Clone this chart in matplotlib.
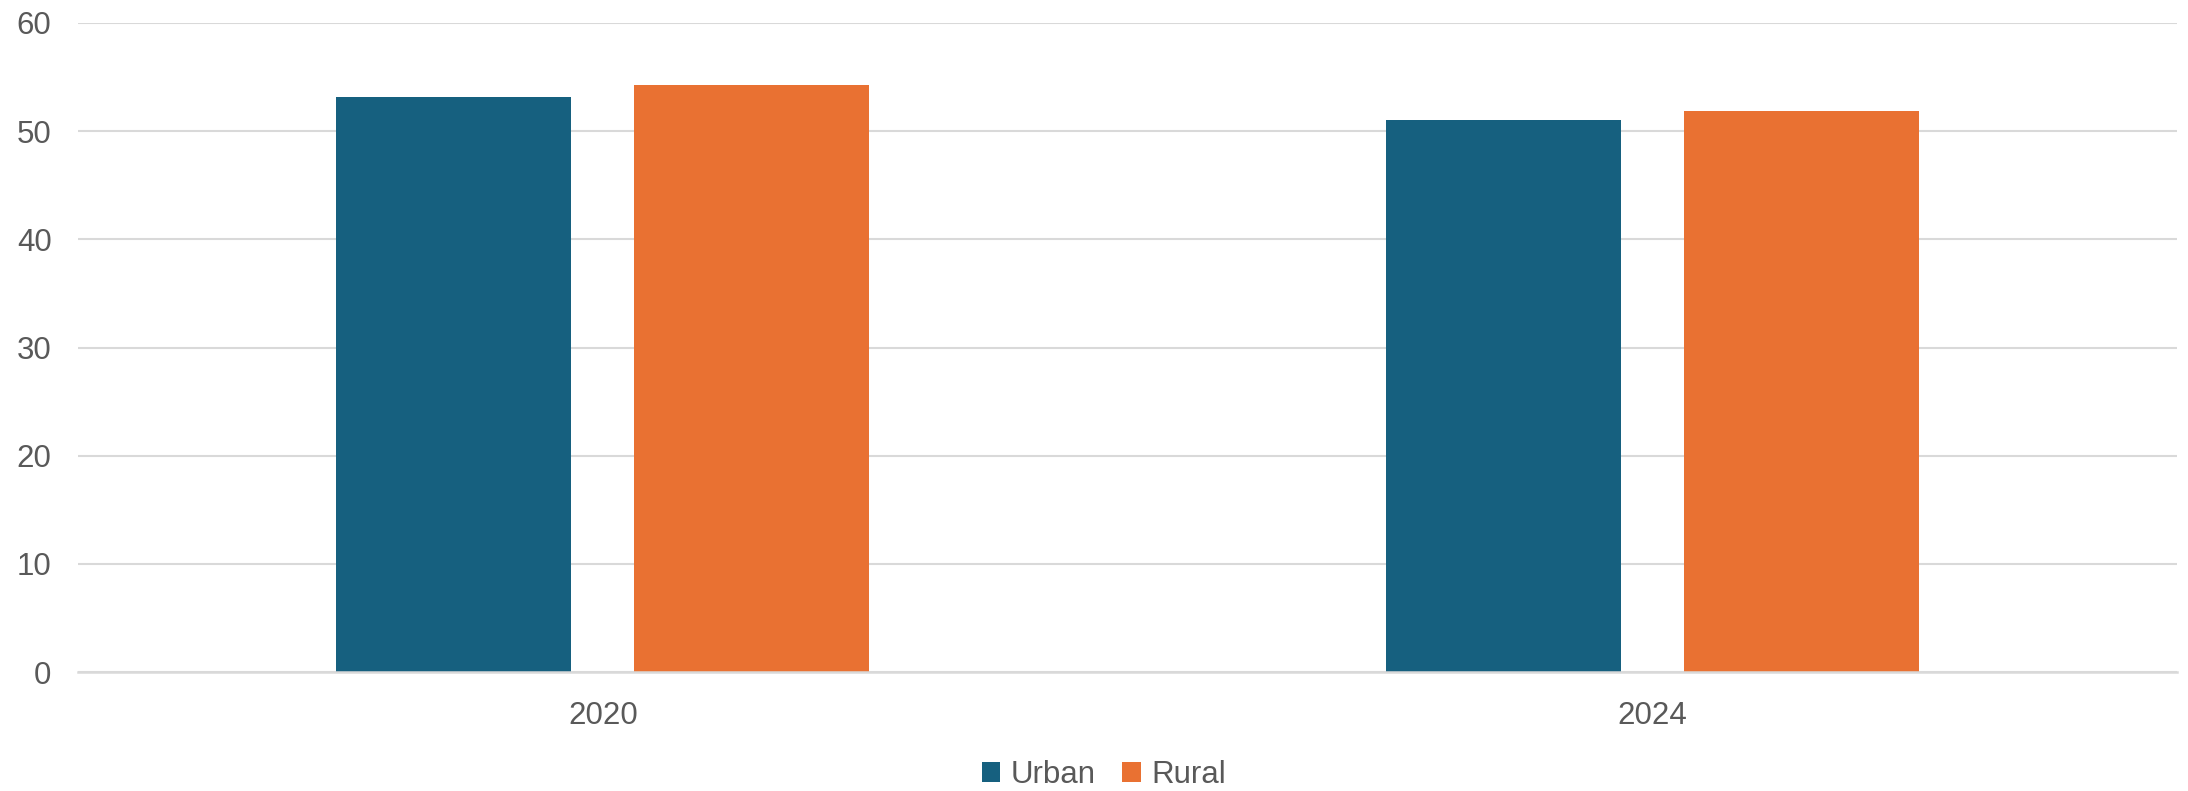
import matplotlib
matplotlib.use("Agg")
import matplotlib.pyplot as plt
import numpy as np

categories = ["2020", "2024"]
series_names = ["Urban", "Rural"]
urban = [53.2, 51.0]
rural = [54.3, 51.9]
yticks = [0, 10, 20, 30, 40, 50, 60]

colors = ["#16607F", "#E97132"]
text_color = "#595959"
grid_color = "#D9D9D9"

plt.rcParams['font.family'] = ['Liberation Sans', 'DejaVu Sans']

W, H = 2188, 791
fig = plt.figure(figsize=(W / 100, H / 100), dpi=100)
ax = fig.add_axes([78 / W, 1 - 672 / H, (2177 - 78) / W, (672 - 23) / H])

x = np.arange(len(categories))
bw = 0.224
off = 0.142
ax.bar(x - off, urban, width=bw, color=colors[0], label=series_names[0], zorder=3)
ax.bar(x + off, rural, width=bw, color=colors[1], label=series_names[1], zorder=3)

ax.set_xlim(-0.5, len(categories) - 0.5)
ax.set_ylim(0, 60)
ax.set_yticks(yticks)
ax.set_yticklabels([str(v) for v in yticks])
ax.set_xticks(x)
ax.set_xticklabels(categories)

ax.grid(axis='y', color=grid_color, linewidth=1.5, zorder=0)
ax.set_axisbelow(True)
for s in ["top", "right", "left"]:
    ax.spines[s].set_visible(False)
ax.spines["bottom"].set_color(grid_color)
ax.spines["bottom"].set_linewidth(1.8)
ax.spines["bottom"].set_zorder(4)

ax.tick_params(axis='both', length=0, labelsize=22.5, colors=text_color)
ax.tick_params(axis='y', pad=19)
ax.tick_params(axis='x', pad=21)

leg = fig.legend(loc='center', bbox_to_anchor=(1104 / W, 1 - 775 / H), ncol=2,
                 frameon=False, fontsize=22.5, handlelength=0.58, handleheight=0.58,
                 handletextpad=0.35, columnspacing=0.85, labelcolor=text_color,
                 borderaxespad=0, borderpad=0)

fig.savefig("out.png", dpi=100, facecolor="white")
